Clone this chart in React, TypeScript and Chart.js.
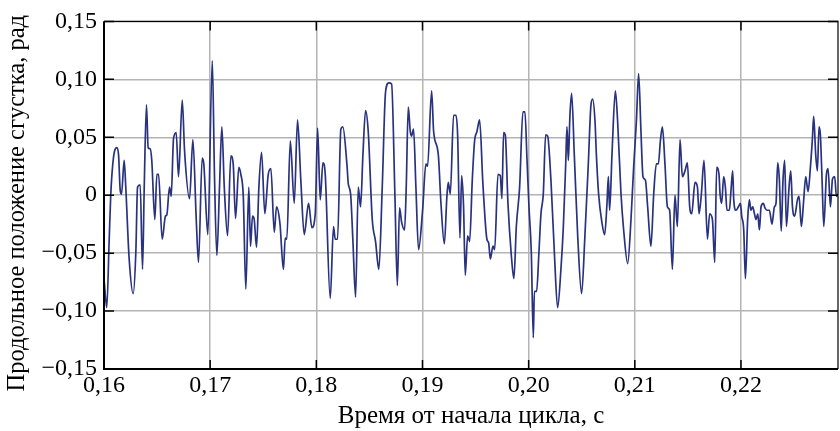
import React, { useEffect, useRef } from "react";
import { Chart, registerables } from "chart.js";

Chart.register(...registerables);

// Time since cycle start, s
const timeS = [
  0.16000, 0.16026, 0.16049, 0.16064, 0.16090, 0.16121, 0.16137, 0.16153, 0.16165, 0.16190,
  0.16205, 0.16237, 0.16275, 0.16300, 0.16316, 0.16341, 0.16363, 0.16379, 0.16400, 0.16416,
  0.16435, 0.16450, 0.16479, 0.16498, 0.16514, 0.16548, 0.16579, 0.16592, 0.16617, 0.16633,
  0.16655, 0.16680, 0.16702, 0.16737, 0.16759, 0.16806, 0.16837, 0.16869, 0.16890, 0.16925,
  0.16940, 0.16978, 0.17020, 0.17041, 0.17063, 0.17088, 0.17110, 0.17133, 0.17164, 0.17195,
  0.17217, 0.17239, 0.17270, 0.17289, 0.17312, 0.17336, 0.17364, 0.17380, 0.17399, 0.17415,
  0.17437, 0.17459, 0.17484, 0.17515, 0.17547, 0.17572, 0.17604, 0.17625, 0.17657, 0.17690,
  0.17707, 0.17722, 0.17755, 0.17792, 0.17823, 0.17854, 0.17886, 0.17927, 0.17958, 0.17990,
  0.18012, 0.18037, 0.18062, 0.18084, 0.18131, 0.18162, 0.18178, 0.18200, 0.18231, 0.18250,
  0.18288, 0.18301, 0.18323, 0.18344, 0.18370, 0.18395, 0.18417, 0.18439, 0.18464, 0.18489,
  0.18527, 0.18558, 0.18589, 0.18621, 0.18652, 0.18683, 0.18709, 0.18740, 0.18763, 0.18784,
  0.18803, 0.18831, 0.18847, 0.18866, 0.18885, 0.18897, 0.18916, 0.18938, 0.18963, 0.19001,
  0.19032, 0.19048, 0.19086, 0.19105, 0.19149, 0.19174, 0.19206, 0.19230, 0.19243, 0.19262,
  0.19293, 0.19315, 0.19331, 0.19353, 0.19369, 0.19387, 0.19403, 0.19425, 0.19444, 0.19469,
  0.19491, 0.19513, 0.19538, 0.19569, 0.19607, 0.19623, 0.19639, 0.19664, 0.19680, 0.19711,
  0.19733, 0.19748, 0.19764, 0.19780, 0.19805, 0.19837, 0.19861, 0.19884, 0.19915, 0.19946,
  0.19965, 0.19984, 0.20003, 0.20025, 0.20044, 0.20054, 0.20075, 0.20097, 0.20116, 0.20138,
  0.20160, 0.20179, 0.20210, 0.20242, 0.20273, 0.20304, 0.20327, 0.20349, 0.20361, 0.20374,
  0.20389, 0.20405, 0.20430, 0.20462, 0.20499, 0.20530, 0.20562, 0.20587, 0.20603, 0.20625,
  0.20638, 0.20659, 0.20691, 0.20716, 0.20738, 0.20751, 0.20763, 0.20785, 0.20817, 0.20838,
  0.20870, 0.20895, 0.20933, 0.20964, 0.20989, 0.21015, 0.21036, 0.21058, 0.21077, 0.21100,
  0.21121, 0.21152, 0.21178, 0.21203, 0.21222, 0.21241, 0.21260, 0.21284, 0.21307, 0.21328,
  0.21354, 0.21378, 0.21401, 0.21426, 0.21448, 0.21473, 0.21495, 0.21517, 0.21536, 0.21567,
  0.21590, 0.21605, 0.21627, 0.21652, 0.21684, 0.21705, 0.21731, 0.21753, 0.21771, 0.21793,
  0.21803, 0.21818, 0.21837, 0.21853, 0.21868, 0.21891, 0.21906, 0.21922, 0.21932, 0.21953,
  0.21976, 0.21995, 0.22007, 0.22026, 0.22042, 0.22063, 0.22079, 0.22094, 0.22111, 0.22127,
  0.22142, 0.22158, 0.22174, 0.22189, 0.22211, 0.22226, 0.22245, 0.22268, 0.22292, 0.22315,
  0.22330, 0.22346, 0.22362, 0.22379, 0.22396, 0.22412, 0.22428, 0.22453, 0.22469, 0.22485,
  0.22506, 0.22532, 0.22547, 0.22569, 0.22591, 0.22610, 0.22632, 0.22654, 0.22673, 0.22685,
  0.22704, 0.22720, 0.22735, 0.22748, 0.22764, 0.22780, 0.22805, 0.22820, 0.22843, 0.22862,
  0.22883, 0.22899, 0.22914,
];

// Longitudinal bunch position, rad
const positionRad = [
  -0.072, -0.097, -0.038, 0.001, 0.033, 0.041, 0.035, 0.004, 0.001, 0.030,
  0.007, -0.055, -0.085, -0.049, 0.007, 0.009, -0.064, 0.007, 0.078, 0.041,
  0.040, 0.030, -0.021, 0.018, 0.018, -0.038, -0.018, -0.017, 0.007, -0.001,
  0.049, 0.054, 0.016, 0.082, 0.038, -0.003, 0.048, -0.021, -0.058, 0.032,
  0.027, -0.034, 0.116, 0.016, -0.052, 0.007, 0.059, 0.007, -0.035, 0.034,
  0.027, -0.020, 0.024, 0.018, -0.001, -0.081, 0.007, -0.044, -0.018, -0.021,
  -0.045, 0.007, 0.037, -0.016, 0.018, 0.023, -0.032, -0.010, -0.024, -0.064,
  -0.037, -0.038, 0.047, -0.007, 0.065, 0.013, -0.034, -0.007, -0.028, -0.016,
  0.058, -0.004, 0.028, 0.018, -0.089, -0.027, -0.038, -0.038, 0.057, 0.059,
  0.027, 0.010, 0.001, -0.038, -0.088, 0.007, -0.010, 0.035, 0.073, 0.055,
  -0.021, -0.040, -0.064, 0.007, 0.089, 0.097, 0.096, 0.001, -0.078, -0.011,
  -0.023, -0.030, 0.007, 0.076, 0.055, 0.051, 0.057, 0.007, -0.047, -0.013,
  0.027, 0.025, 0.090, 0.055, 0.035, -0.007, -0.042, -0.001, 0.011, 0.001,
  0.069, 0.069, 0.052, -0.037, 0.017, -0.010, -0.069, -0.035, -0.040, 0.013,
  0.047, 0.055, 0.065, 0.010, -0.038, -0.041, -0.055, -0.044, -0.047, 0.018,
  0.017, -0.003, 0.054, 0.052, -0.007, -0.052, -0.072, -0.027, 0.007, 0.072,
  0.072, 0.032, -0.010, -0.049, -0.123, -0.083, -0.083, -0.049, -0.016, 0.001,
  0.052, 0.051, 0.013, -0.049, -0.097, -0.064, -0.027, 0.027, 0.059, 0.030,
  0.069, 0.088, 0.035, -0.035, -0.085, -0.035, 0.027, 0.078, 0.083, 0.064,
  0.035, 0.001, -0.024, -0.034, -0.007, 0.016, -0.013, 0.035, 0.090, 0.064,
  0.001, -0.030, -0.059, -0.021, 0.024, 0.064, 0.105, 0.055, 0.016, 0.013,
  -0.010, -0.044, 0.001, 0.027, 0.027, 0.047, 0.059, 0.027, -0.010, -0.013,
  -0.064, 0.000, -0.027, 0.048, 0.016, 0.021, 0.028, -0.010, -0.016, 0.011,
  0.007, -0.016, 0.001, 0.030, -0.038, -0.016, -0.021, -0.058, 0.024, 0.018,
  0.001, -0.007, 0.016, 0.007, -0.013, -0.013, 0.004, 0.021, -0.004, -0.013,
  -0.010, -0.007, -0.018, -0.030, -0.072, -0.021, -0.004, -0.013, -0.010, -0.016,
  -0.021, -0.016, -0.030, -0.010, -0.007, -0.011, -0.013, -0.013, -0.025, -0.010,
  -0.007, 0.028, 0.013, -0.031, 0.013, 0.030, -0.027, 0.007, 0.021, -0.010,
  -0.018, -0.004, -0.001, -0.027, -0.004, 0.016, 0.003, 0.024, 0.049, 0.068,
  0.035, 0.021, 0.059, 0.052, 0.013, -0.027, 0.018, 0.023, -0.010, 0.014,
  0.016, -0.001, 0.001,
];

const xTickValues = [0.16, 0.17, 0.18, 0.19, 0.2, 0.21, 0.22];
const xTickLabels = ["0,16", "0,17", "0,18", "0,19", "0,20", "0,21", "0,22"];
const yTickValues = [-0.15, -0.1, -0.05, 0, 0.05, 0.1, 0.15];
const yTickLabels = ["−0,15", "−0,10", "−0,05", "0", "0,05", "0,10", "0,15"];
const xTitle = "Время от начала цикла, с";
const yTitle = "Продольное положение сгустка, рад";

const FONT = "'Liberation Serif', 'Times New Roman', serif";

const frameAndTicks = {
  id: "frameAndTicks",
  afterDraw(chart: any) {
    const { ctx, chartArea, scales } = chart;
    const { left, right, top, bottom } = chartArea;
    ctx.save();
    ctx.strokeStyle = "#000";
    ctx.lineWidth = 1.5;
    xTickValues.forEach((v) => {
      const px = scales.x.getPixelForValue(v);
      ctx.beginPath();
      ctx.moveTo(px, bottom);
      ctx.lineTo(px, bottom - 9);
      ctx.moveTo(px, top);
      ctx.lineTo(px, top + 9);
      ctx.stroke();
    });
    yTickValues.forEach((v) => {
      const py = scales.y.getPixelForValue(v);
      ctx.beginPath();
      ctx.moveTo(left, py);
      ctx.lineTo(left + 10, py);
      ctx.moveTo(right, py);
      ctx.lineTo(right - 10, py);
      ctx.stroke();
    });
    ctx.lineWidth = 2;
    ctx.beginPath();
    ctx.moveTo(left, top);
    ctx.lineTo(left, bottom);
    ctx.lineTo(right, bottom);
    ctx.stroke();
    ctx.lineWidth = 1.2;
    ctx.beginPath();
    ctx.moveTo(left, top);
    ctx.lineTo(right, top);
    ctx.lineTo(right, bottom);
    ctx.stroke();

    // Y-axis title, rotated, centred a little below the plot centre as in the original
    ctx.fillStyle = "#000";
    ctx.font = `24.5px ${FONT}`;
    ctx.textAlign = "center";
    ctx.textBaseline = "middle";
    ctx.translate(18, (top + bottom) / 2 + 8);
    ctx.rotate(-Math.PI / 2);
    ctx.fillText(yTitle, 0, 0);
    ctx.restore();
  },
};

export default function App() {
  const canvasRef = useRef<HTMLCanvasElement | null>(null);

  useEffect(() => {
    const canvas = canvasRef.current;
    if (!canvas) return;
    const data = timeS.map((t, i) => ({ x: t, y: positionRad[i] }));
    const chart = new Chart(canvas, {
      type: "line",
      data: {
        datasets: [
          {
            data,
            borderColor: "#29327f",
            borderWidth: 1.7,
            pointRadius: 0,
            fill: false,
            cubicInterpolationMode: "monotone",
          },
        ],
      },
      options: {
        animation: false,
        responsive: false,
        maintainAspectRatio: false,
        layout: { padding: { top: 15, right: 2, bottom: 0, left: 0 } },
        plugins: { legend: { display: false }, tooltip: { enabled: false } },
        scales: {
          x: {
            type: "linear",
            min: 0.16,
            max: 0.22914,
            afterBuildTicks: (s: any) => {
              s.ticks = xTickValues.map((v) => ({ value: v }));
            },
            afterFit: (s: any) => {
              s.height = 62;
            },
            grid: { color: "#b4b4b4", lineWidth: 1.5, drawTicks: false },
            border: { display: false },
            ticks: {
              callback: (_v: any, i: number) => xTickLabels[i],
              padding: 2,
              color: "#000",
              font: { family: FONT, size: 24 },
              maxRotation: 0,
              autoSkip: false,
            },
            title: {
              display: true,
              text: xTitle,
              color: "#000",
              font: { family: FONT, size: 25 },
              padding: { top: 0, bottom: 0 },
            },
          },
          y: {
            type: "linear",
            min: -0.15,
            max: 0.15,
            afterBuildTicks: (s: any) => {
              s.ticks = yTickValues.map((v) => ({ value: v }));
            },
            afterFit: (s: any) => {
              s.width = 104;
            },
            grid: { color: "#b4b4b4", lineWidth: 1.5, drawTicks: false },
            border: { display: false },
            ticks: {
              callback: (_v: any, i: number) => yTickLabels[i],
              padding: 7,
              color: "#000",
              font: { family: FONT, size: 24 },
              autoSkip: false,
            },
            title: { display: false },
          },
        },
      },
      plugins: [frameAndTicks],
    });
    return () => chart.destroy();
  }, []);

  return (
    <div style={{ position: "fixed", left: 0, top: 0, width: 840, height: 431, background: "#fff" }}>
      <canvas ref={canvasRef} width={840} height={431} style={{ width: 840, height: 431 }} />
    </div>
  );
}
